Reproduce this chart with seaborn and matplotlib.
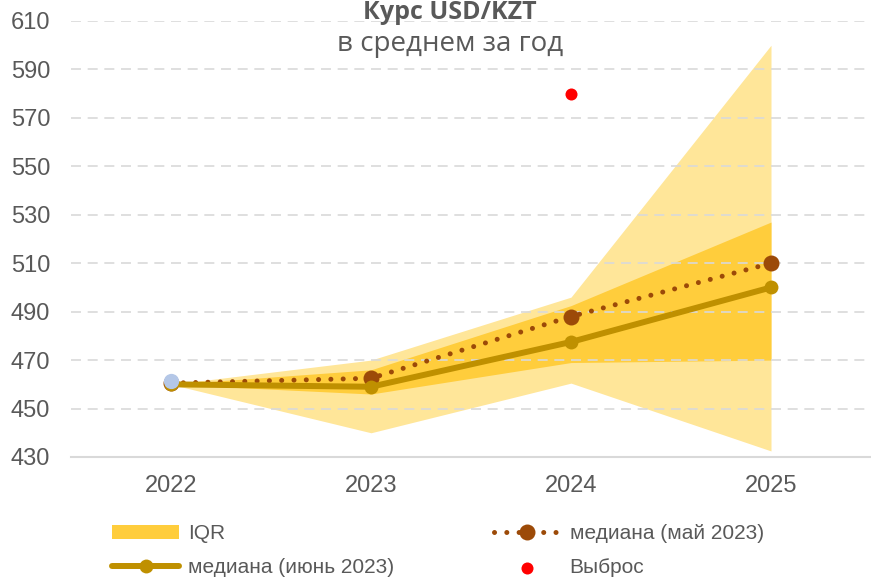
import numpy as np
import pandas as pd
import matplotlib
matplotlib.use('Agg')
import matplotlib.pyplot as plt
import seaborn as sns

# values (USD/KZT, yearly average)
years = [2022, 2023, 2024, 2025]
year_labels = ['2022', '2023', '2024', '2025']
range_low = [460, 440, 460.5, 432.5]
range_high = [460, 470, 496, 600]
iqr_low = [460, 456, 469, 470]
iqr_high = [460, 466, 492.5, 527]
median_jun = [460, 459, 477.5, 500]
median_may = [460.5, 462.5, 488, 510]
actual_year = [2022]
actual_val = [461.5]
outlier_year = [2024]
outlier_val = [580]
y_ticks = [430, 450, 470, 490, 510, 530, 550, 570, 590, 610]

sns.set_style('white')
plt.rcParams['font.family'] = ['Liberation Sans', 'DejaVu Sans']
text_grey = '#595959'

fig = plt.figure(figsize=(8.71, 5.77), dpi=100)
ax = fig.add_axes([71/871, 1 - 457/577, 1 - 71/871, (457 - 21)/577])

# bands: full range (light) and IQR (dark)
ax.fill_between(years, range_low, range_high, color='#FFE699', lw=0, zorder=0.2)
ax.fill_between(years, iqr_low, iqr_high, color='#FFCD3C', lw=0, zorder=0.3, label='IQR')

# medians
sns.lineplot(x=years, y=median_may, ax=ax, color='#9C4A08', lw=3.6, marker='o',
             markersize=11.5, markeredgewidth=0, label='медиана (май 2023)', zorder=3)
may_line = ax.lines[-1]
may_line.set_linestyle((0, (0.01, 2.45)))
may_line.set_dash_capstyle('round')
sns.lineplot(x=years, y=median_jun, ax=ax, color='#BF9000', lw=4.3, marker='o',
             markersize=10, markeredgewidth=0, label='медиана (июнь 2023)', zorder=4)
ax.plot(actual_year, actual_val, 'o', color='#B4C7E7', markersize=11, markeredgewidth=0, zorder=5)
sns.scatterplot(x=outlier_year, y=outlier_val, ax=ax, color='#FF0000', s=75,
                linewidth=0, label='Выброс', zorder=5)

ax.set_xlim(2021.5, 2025.5)
ax.set_ylim(430, 610)
ax.set_yticks(y_ticks)
ax.set_xticks(years)
ax.set_xticklabels(year_labels)
ax.set_xticks([2021.5, 2022.5, 2023.5, 2024.5], minor=True)
ax.tick_params(axis='x', which='major', length=0, pad=13, labelsize=17, labelcolor=text_grey)
ax.tick_params(axis='x', which='minor', length=6, width=1.2, color='#D9D9D9', direction='out')
ax.tick_params(axis='y', length=0, pad=15, labelsize=17, labelcolor=text_grey)
ax.set_xlabel('')
ax.set_ylabel('')

ax.set_axisbelow(True)
ax.yaxis.grid(True, color='#D9D9D9', lw=1.2, linestyle=(0, (6, 4)))
ax.xaxis.grid(False)
for side in ['top', 'right', 'left']:
    ax.spines[side].set_visible(False)
ax.spines['bottom'].set_color('#D9D9D9')
ax.spines['bottom'].set_linewidth(1.5)

fig.text(0.517, 1 - 19/577, 'Курс USD/KZT', ha='center', va='baseline', fontsize=18,
         fontweight='bold', color=text_grey, family=['Open Sans', 'DejaVu Sans'])
fig.text(0.517, 1 - 51/577, 'в среднем за год', ha='center', va='baseline', fontsize=20,
         color=text_grey, family=['Open Sans', 'DejaVu Sans'])

handles, labels = ax.get_legend_handles_labels()
order = ['IQR', 'медиана (июнь 2023)', 'медиана (май 2023)', 'Выброс']
hmap = dict(zip(labels, handles))
ax.legend([hmap[k] for k in order], order, ncol=2, frameon=False,
          loc='upper left', bbox_to_anchor=(104/871, 1 - 516/577), bbox_transform=fig.transFigure,
          fontsize=15, labelcolor=text_grey, handlelength=3.2, handletextpad=0.43,
          columnspacing=4.8, labelspacing=0.72, borderaxespad=0)

fig.savefig('out.png', dpi=100)
